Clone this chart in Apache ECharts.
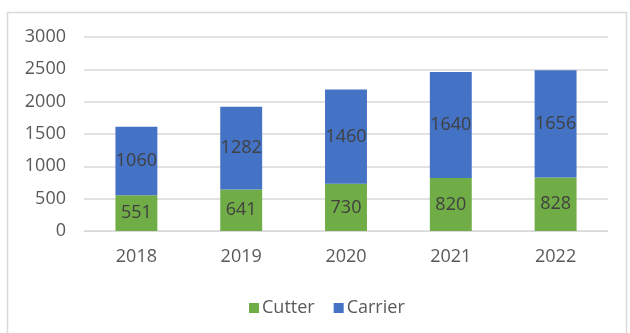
<!DOCTYPE html>
<html>
<head>
<meta charset="utf-8">
<script src="https://cdn.jsdelivr.net/npm/echarts@6/dist/echarts.min.js"></script>
<style>
  html, body { margin: 0; padding: 0; background: #fff; }
  #chart { width: 630px; height: 333px; }
</style>
</head>
<body>
<div id="chart"></div>
<script>
// Annual volumes, stacked by product line
const years = ['2018', '2019', '2020', '2021', '2022'];
const cutter = [551, 641, 730, 820, 828];
const carrier = [1060, 1282, 1460, 1640, 1656];
const yTicks = [0, 500, 1000, 1500, 2000, 2500, 3000];

const FONT = '"Open Sans", "Liberation Sans", sans-serif';
const chart = echarts.init(document.getElementById('chart'), null, { renderer: 'canvas' });

const labelStyle = {
  show: true,
  position: 'inside',
  color: '#404040',
  fontSize: 18,
  fontFamily: FONT
};

chart.setOption({
  animation: false,
  backgroundColor: '#ffffff',
  graphic: [
    {
      type: 'polyline',
      shape: { points: [[7.5, 340], [7.5, 12.5], [626.5, 12.5], [626.5, 340]] },
      style: { stroke: '#d9d9d9', lineWidth: 1.5, fill: null },
      silent: true
    }
  ],
  grid: { left: 84, right: 22, top: 37, bottom: 102, containLabel: false },
  legend: {
    left: 244,
    top: 294,
    itemWidth: 10,
    itemHeight: 10,
    itemGap: 19,
    icon: 'rect',
    textStyle: { color: '#595959', fontSize: 18, fontFamily: FONT, padding: [0, 0, 0, -2] },
    data: ['Cutter', 'Carrier']
  },
  xAxis: {
    type: 'category',
    data: years,
    axisLine: { show: true, lineStyle: { color: '#d9d9d9', width: 1 } },
    axisTick: { show: false },
    axisLabel: { color: '#595959', fontSize: 18, fontFamily: FONT, margin: 17 }
  },
  yAxis: {
    type: 'value',
    min: yTicks[0],
    max: yTicks[yTicks.length - 1],
    interval: 500,
    axisLine: { show: false },
    axisTick: { show: false },
    splitLine: { lineStyle: { color: '#d9d9d9', width: 1.5 } },
    axisLabel: {
      color: '#595959',
      fontSize: 18,
      fontFamily: FONT,
      margin: 18,
      formatter: (v) => String(v)
    }
  },
  series: [
    {
      name: 'Cutter',
      type: 'bar',
      stack: 'total',
      data: cutter,
      barWidth: '40%',
      itemStyle: { color: '#70ad47' },
      label: labelStyle
    },
    {
      name: 'Carrier',
      type: 'bar',
      stack: 'total',
      data: carrier,
      barWidth: '40%',
      itemStyle: { color: '#4472c4' },
      label: labelStyle
    }
  ]
});
</script>
</body>
</html>
